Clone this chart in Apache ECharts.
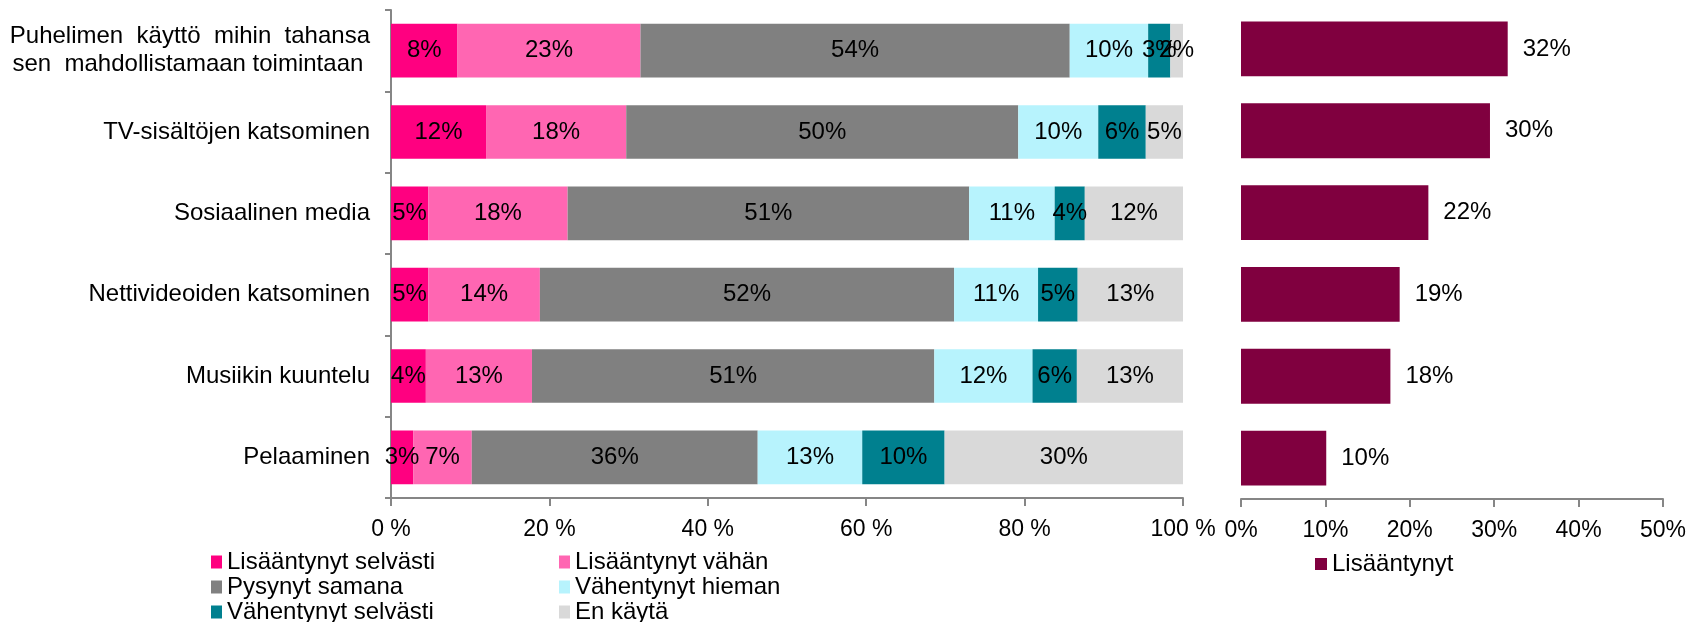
<!DOCTYPE html>
<html>
<head>
<meta charset="utf-8">
<script src="https://cdn.jsdelivr.net/npm/echarts@6/dist/echarts.min.js"></script>
<style>
  html, body { margin: 0; padding: 0; background: #fff; }
  #main { width: 1691px; height: 622px; }
</style>
</head>
<body>
<div id="main"></div>
<script>
  const categories = [
    'Puhelimen  käyttö  mihin  tahansa\nsen  mahdollistamaan toimintaan ',
    'TV-sisältöjen katsominen',
    'Sosiaalinen media',
    'Nettivideoiden katsominen',
    'Musiikin kuuntelu',
    'Pelaaminen',
  ]
  const seriesNames = [
    'Lisääntynyt selvästi',
    'Lisääntynyt vähän',
    'Pysynyt samana',
    'Vähentynyt hieman',
    'Vähentynyt selvästi',
    'En käytä',
  ]
  const lisaantynytSelvasti = [8.4, 12.0, 4.7, 4.7, 4.4, 2.8]
  const lisaantynytVahan = [23.1, 17.7, 17.6, 14.1, 13.4, 7.4]
  const pysynytSamana = [54.2, 49.5, 50.7, 52.3, 50.8, 36.1]
  const vahentynytHieman = [9.9, 10.1, 10.8, 10.6, 12.4, 13.2]
  const vahentynytSelvasti = [2.8, 6.0, 3.8, 5.0, 5.6, 10.4]
  const enKayta = [1.6, 4.7, 12.4, 13.3, 13.4, 30.1]
  const lisaantynyt = [31.6, 29.5, 22.2, 18.8, 17.7, 10.1]
  const leftTicks = [0, 20, 40, 60, 80, 100]
  const rightTicks = [0, 10, 20, 30, 40, 50]

  const colors = ['#ff0080', '#ff66b2', '#808080', '#b7f3fd', '#00808f', '#d9d9d9']
  const font = "'Liberation Sans', Arial, sans-serif"
  const axisGray = '#868686'

  const stackData = [
    lisaantynytSelvasti,
    lisaantynytVahan,
    pysynytSamana,
    vahentynytHieman,
    vahentynytSelvasti,
    enKayta,
  ]

  const chart = echarts.init(document.getElementById('main'))

  const stackSeries = stackData.map((data, i) => ({
    name: seriesNames[i],
    type: 'bar',
    stack: 'total',
    xAxisIndex: 0,
    yAxisIndex: 0,
    barWidth: '66%',
    itemStyle: { color: colors[i] },
    label: {
      show: true,
      position: 'inside',
      color: '#000',
      fontSize: 24,
      fontFamily: font,
      textBorderWidth: 0,
      formatter: (p) => Math.round(p.value) + '%',
    },
    data: data,
  }))

  // legend: two columns, three rows, one legend per item
  const legendSlots = [
    [211, 550], [559, 550],
    [211, 575], [559, 575],
    [211, 600], [559, 600],
  ]
  const legends = seriesNames.map((name, i) => ({
    data: [name],
    left: legendSlots[i][0],
    top: legendSlots[i][1],
    icon: 'rect',
    itemWidth: 11,
    itemHeight: 13,
    padding: 0,
    textStyle: { fontSize: 24, fontFamily: font, color: '#000' },
  }))
  legends.push({
    data: ['Lisääntynyt'],
    left: 1315,
    top: 552,
    icon: 'rect',
    itemWidth: 12,
    itemHeight: 12,
    padding: 0,
    textStyle: { fontSize: 24, fontFamily: font, color: '#000' },
  })

  const option = {
    animation: false,
    textStyle: { fontFamily: font, color: '#000' },
    grid: [
      { left: 391, width: 792, top: 10, height: 488 },
      { left: 1241, width: 422, top: 8, height: 491 },
    ],
    legend: legends,
    xAxis: [
      {
        gridIndex: 0,
        type: 'value',
        min: leftTicks[0],
        max: leftTicks[leftTicks.length - 1],
        interval: 20,
        splitLine: { show: false },
        axisLine: { show: true, lineStyle: { color: axisGray, width: 2 } },
        axisTick: { show: true, length: 8, lineStyle: { color: axisGray, width: 2 } },
        axisLabel: { fontSize: 23, color: '#000', margin: 20, formatter: '{value} %' },
      },
      {
        gridIndex: 1,
        type: 'value',
        min: rightTicks[0],
        max: rightTicks[rightTicks.length - 1],
        interval: 10,
        splitLine: { show: false },
        axisLine: { show: true, lineStyle: { color: axisGray, width: 2 } },
        axisTick: { show: true, length: 8, lineStyle: { color: axisGray, width: 2 } },
        axisLabel: { fontSize: 23, color: '#000', margin: 20, formatter: '{value}%' },
      },
    ],
    yAxis: [
      {
        gridIndex: 0,
        type: 'category',
        inverse: true,
        data: categories,
        axisLine: { show: true, lineStyle: { color: axisGray, width: 2 } },
        axisTick: { show: true, length: 6, lineStyle: { color: axisGray, width: 2 } },
        axisLabel: { fontSize: 24, color: '#000', margin: 21, lineHeight: 28, align: 'right' },
      },
      {
        gridIndex: 1,
        type: 'category',
        inverse: true,
        data: categories,
        axisLine: { show: false },
        axisTick: { show: false },
        axisLabel: { show: false },
      },
    ],
    series: [
      ...stackSeries,
      {
        name: 'Lisääntynyt',
        type: 'bar',
        xAxisIndex: 1,
        yAxisIndex: 1,
        barWidth: '67%',
        itemStyle: { color: '#80003f' },
        label: {
          show: true,
          position: 'right',
          distance: 15,
          color: '#000',
          fontSize: 24,
          fontFamily: font,
          formatter: (p) => Math.round(p.value) + '%',
        },
        data: lisaantynyt,
      },
    ],
  }

  chart.setOption(option)
</script>
</body>
</html>
